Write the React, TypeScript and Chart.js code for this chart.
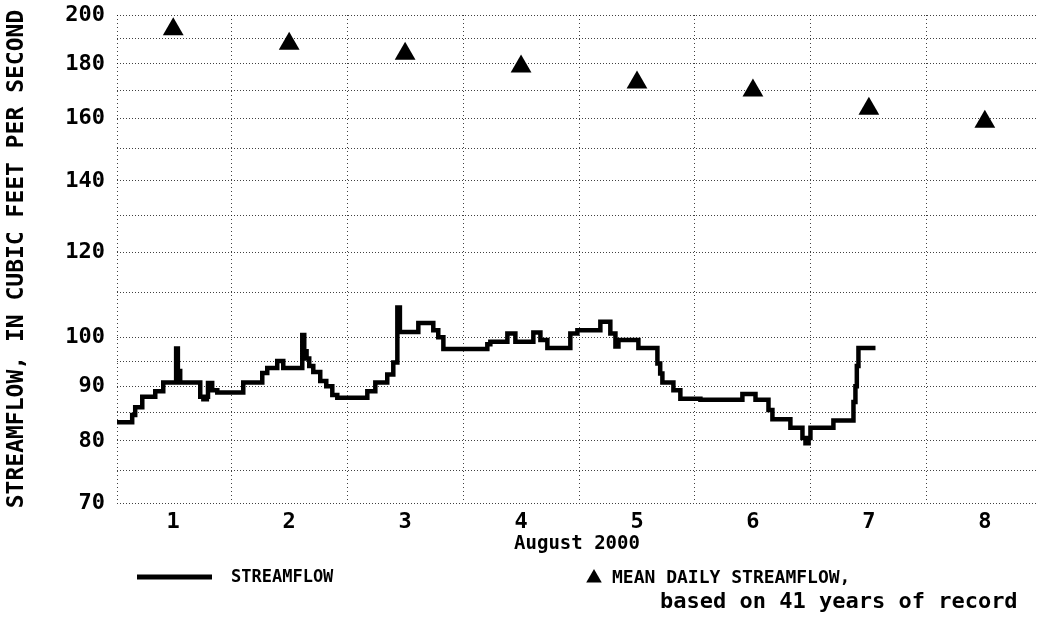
import { useEffect, useRef } from "react";
import { Chart, registerables } from "chart.js";

Chart.register(...registerables);

// Streamflow (cfs), step series: value holds from this day-time until the next one
const flowDays = [
  0.515, 0.646, 0.672, 0.733, 0.845, 0.914, 1.025, 1.04, 1.06, 1.233,
  1.26, 1.29, 1.30, 1.336, 1.38, 1.604, 1.768, 1.811, 1.897, 1.949,
  2.113, 2.13, 2.15, 2.173, 2.208, 2.268, 2.32, 2.372, 2.415, 2.674,
  2.743, 2.846, 2.898, 2.933, 2.955, 3.114, 3.243, 3.286, 3.33, 3.709,
  3.735, 3.882, 3.951, 4.106, 4.167, 4.227, 4.425, 4.486, 4.684, 4.77,
  4.814, 4.84, 5.012, 5.176, 5.2, 5.219, 5.314, 5.374, 5.547, 5.909,
  6.022, 6.134, 6.168, 6.323, 6.427, 6.453, 6.48, 6.496, 6.694, 6.867,
  6.884, 6.896, 6.91, 7.057,
];
const flowValues = [
  83.3, 84.6, 86, 88, 89, 90.7, 97.6, 93, 90.7, 88,
  87.5, 88, 90.6, 89.2, 88.8, 90.7, 92.6, 93.6, 95, 93.6,
  100.5, 97, 95.5, 94, 92.8, 91, 90, 88.3, 87.8, 89,
  90.7, 92.3, 94.7, 106.6, 101.1, 103.1, 101.5, 100, 97.5, 98.5,
  99, 100.8, 99, 101, 99.4, 97.7, 100.8, 101.5, 103.4, 100.8,
  98, 99.4, 97.7, 94.5, 92.5, 90.7, 89.2, 87.6, 87.4, 88.5,
  87.4, 85.5, 83.8, 82.3, 80.5, 79.6, 80.5, 82.3, 83.6, 87,
  90, 94, 97.7, 97.7,
];

// Mean daily streamflow, based on 41 years of record
const meanDays = [1, 2, 3, 4, 5, 6, 7, 8];
const meanValues = [194, 188, 184, 179, 173, 170, 163.5, 159];

// Axis ticks
const yGridValues = [70, 75, 80, 85, 90, 95, 100, 110, 120, 130, 140, 150, 160, 170, 180, 190, 200];
const yLabelValues = [70, 80, 90, 100, 120, 140, 160, 180, 200];
const xLabelDays = [1, 2, 3, 4, 5, 6, 7, 8];
const xGridDays = [1.5, 2.5, 3.5, 4.5, 5.5, 6.5, 7.5];
const X_MIN = 0.515;
const X_MAX = 8.45;
const Y_MIN = 70;
const Y_MAX = 200;

const yTitle = "STREAMFLOW, IN CUBIC FEET PER SECOND";
const xTitle = "August 2000";
const legendFlow = "STREAMFLOW";
const legendMean1 = "MEAN DAILY STREAMFLOW,";
const legendMean2 = "based on 41 years of record";

const FONT = "'DejaVu Sans Mono', monospace";
const GRID = "rgba(0,0,0,0.75)";

const legendPlugin = {
  id: "usgsLegend",
  afterDraw(chart: any) {
    const ctx = chart.ctx as CanvasRenderingContext2D;
    ctx.save();
    ctx.fillStyle = "#000";
    ctx.strokeStyle = "#000";
    ctx.lineWidth = 5;
    ctx.beginPath();
    ctx.moveTo(137, 577);
    ctx.lineTo(212, 577);
    ctx.stroke();
    ctx.textBaseline = "middle";
    ctx.textAlign = "left";
    ctx.font = `bold 17px ${FONT}`;
    ctx.fillText(legendFlow, 231, 578);
    const tx = 594, ty = 578, r = 9;
    ctx.beginPath();
    ctx.moveTo(tx, ty - r);
    ctx.lineTo(tx + r * 0.866, ty + r * 0.5);
    ctx.lineTo(tx - r * 0.866, ty + r * 0.5);
    ctx.closePath();
    ctx.fill();
    ctx.font = `bold 18px ${FONT}`;
    ctx.fillText(legendMean1, 612, 578);
    ctx.font = `bold 22px ${FONT}`;
    ctx.fillText(legendMean2, 660, 602);
    ctx.restore();
  },
};

export default function App() {
  const ref = useRef<HTMLCanvasElement | null>(null);

  useEffect(() => {
    if (!ref.current) return;
    const chart = new Chart(ref.current, {
      type: "line",
      data: {
        datasets: [
          {
            label: "STREAMFLOW",
            data: flowDays.map((d, i) => ({ x: d, y: flowValues[i] })),
            stepped: "before",
            borderColor: "#000",
            borderWidth: 4.5,
            pointRadius: 0,
            fill: false,
          },
          {
            label: "MEAN DAILY STREAMFLOW",
            data: meanDays.map((d, i) => ({ x: d, y: meanValues[i] })),
            showLine: false,
            pointStyle: "triangle",
            pointRadius: 12,
            pointBackgroundColor: "#000",
            pointBorderColor: "#000",
            pointBorderWidth: 0,
          },
        ],
      },
      options: {
        responsive: false,
        animation: false,
        layout: { autoPadding: false, padding: { left: 0, right: 0, top: 15, bottom: 65 } },
        plugins: { legend: { display: false }, tooltip: { enabled: false } },
        scales: {
          x: {
            type: "linear",
            min: X_MIN,
            max: X_MAX,
            afterBuildTicks: (axis: any) => {
              const vals = [X_MIN, ...xLabelDays, ...xGridDays, X_MAX].sort((a, b) => a - b);
              axis.ticks = vals.map((v) => ({ value: v }));
            },
            afterFit: (scale: any) => {
              scale.height = 52;
              scale.paddingLeft = 0;
              scale.paddingRight = 0;
            },
            ticks: {
              autoSkip: false,
              maxRotation: 0,
              padding: 6,
              color: "#000",
              font: { family: FONT, size: 22, weight: "bold" },
              callback: (v: any) => (xLabelDays.includes(Number(v)) ? String(v) : ""),
            },
            grid: {
              drawTicks: false,
              lineWidth: 1,
              color: (c: any) => {
                const v = c.tick ? c.tick.value : null;
                if (v === null) return "transparent";
                return xLabelDays.includes(v) ? "transparent" : GRID;
              },
            },
            border: { display: false, dash: [1, 3] },
            title: {
              display: true,
              text: xTitle,
              color: "#000",
              font: { family: FONT, size: 19, weight: "bold" },
              padding: { top: 0, bottom: 0 },
            },
          },
          y: {
            type: "logarithmic",
            min: Y_MIN,
            max: Y_MAX,
            afterBuildTicks: (axis: any) => {
              axis.ticks = yGridValues.map((v) => ({ value: v }));
            },
            afterFit: (scale: any) => {
              scale.width = 117;
              scale.paddingTop = 0;
              scale.paddingBottom = 0;
            },
            ticks: {
              autoSkip: false,
              padding: 12,
              color: "#000",
              font: { family: FONT, size: 22, weight: "bold" },
              callback: (v: any) => (yLabelValues.includes(Number(v)) ? String(v) : ""),
            },
            grid: { drawTicks: false, lineWidth: 1, color: GRID },
            border: { display: false, dash: [1, 2] },
            title: {
              display: true,
              text: yTitle,
              color: "#000",
              font: { family: FONT, size: 23, weight: "bold" },
              padding: { top: 3, bottom: 0 },
            },
          },
        },
      },
      plugins: [legendPlugin],
    });
    return () => chart.destroy();
  }, []);

  return (
    <canvas
      ref={ref}
      width={1037}
      height={620}
      style={{ position: "fixed", left: 0, top: 0, width: 1037, height: 620, background: "#fff" }}
    />
  );
}
